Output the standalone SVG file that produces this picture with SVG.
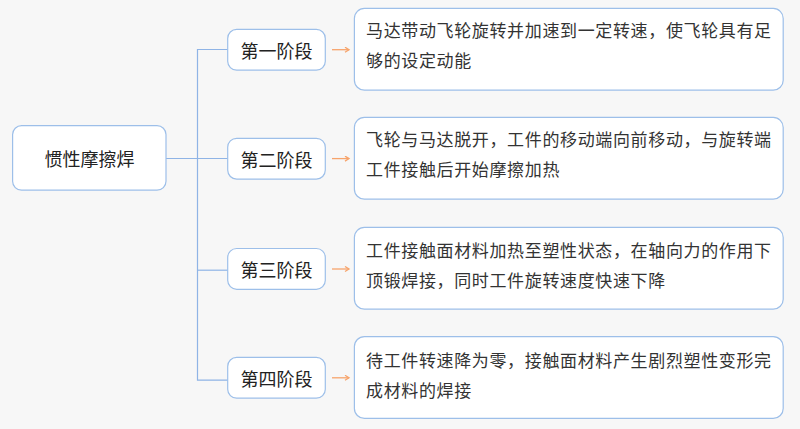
<svg xmlns="http://www.w3.org/2000/svg" width="800" height="429" viewBox="0 0 800 429">
<defs>
<style>
.bg{fill:#f7f7f7}
.box{fill:#ffffff;stroke:#9dbfe9;stroke-width:1.2}
.ln{fill:none;stroke:#8fb4e6;stroke-width:1.2}
.ar{fill:none;stroke:#f7a46c;stroke-width:1.3}
.t18{font-family:"Noto Sans CJK SC","Noto Sans",sans-serif;font-size:18px;fill:#222}
.t17{font-family:"Noto Sans CJK SC","Noto Sans",sans-serif;font-size:17px;fill:#333;letter-spacing:0.64px}
</style>
<marker id="ah" markerWidth="8" markerHeight="8" refX="5" refY="3" orient="auto" markerUnits="userSpaceOnUse">
<path d="M1,0.5 L5,3 L1,5.5" fill="none" stroke="#f7a46c" stroke-width="1.3"/>
</marker>
</defs>
<rect class="bg" x="0" y="0" width="800" height="429"/>
<g id="connectors">
<path class="ln" d="M166,158.5 H228"/>
<path class="ln" d="M228,49.5 H197.5 V380.2 H228"/>
<path class="ln" d="M197.5,270.2 H228"/>
<path class="ar" d="M332,49.7 H349" marker-end="url(#ah)"/>
<path class="ar" d="M332,158.6 H349" marker-end="url(#ah)"/>
<path class="ar" d="M332,269 H349" marker-end="url(#ah)"/>
<path class="ar" d="M332,377.8 H349" marker-end="url(#ah)"/>
</g>
<g id="root">
<rect class="box" x="12.6" y="125.6" width="153.4" height="64.6" rx="9"/>
<text class="t18" x="89.5" y="166" text-anchor="middle">惯性摩擦焊</text>
</g>
<g id="stage1">
<rect class="box" x="227.7" y="29.4" width="97.6" height="40.8" rx="9"/>
<text class="t18" x="276.5" y="58" text-anchor="middle">第一阶段</text>
</g>
<g id="stage2">
<rect class="box" x="227.7" y="138.3" width="97.6" height="40.8" rx="9"/>
<text class="t18" x="276.5" y="166.9" text-anchor="middle">第二阶段</text>
</g>
<g id="stage3">
<rect class="box" x="227.7" y="248.5" width="97.6" height="40.8" rx="9"/>
<text class="t18" x="276.5" y="277.1" text-anchor="middle">第三阶段</text>
</g>
<g id="stage4">
<rect class="box" x="227.7" y="357.4" width="97.6" height="40.8" rx="9"/>
<text class="t18" x="276.5" y="386" text-anchor="middle">第四阶段</text>
</g>
<g id="desc1">
<rect class="box" x="354.4" y="8.4" width="428.8" height="81.8" rx="10"/>
<text class="t17" x="366" y="36.5">马达带动飞轮旋转并加速到一定转速，使飞轮具有足</text>
<text class="t17" x="366" y="66.5">够的设定动能</text>
</g>
<g id="desc2">
<rect class="box" x="354.4" y="117.4" width="428.8" height="81.8" rx="10"/>
<text class="t17" x="366" y="145.5">飞轮与马达脱开，工件的移动端向前移动，与旋转端</text>
<text class="t17" x="366" y="175.5">工件接触后开始摩擦加热</text>
</g>
<g id="desc3">
<rect class="box" x="354.4" y="227.4" width="428.8" height="81.8" rx="10"/>
<text class="t17" x="366" y="257">工件接触面材料加热至塑性状态，在轴向力的作用下</text>
<text class="t17" x="366" y="287">顶锻焊接，同时工件旋转速度快速下降</text>
</g>
<g id="desc4">
<rect class="box" x="354.4" y="336.6" width="428.8" height="81.8" rx="10"/>
<text class="t17" x="366" y="366.5">待工件转速降为零，接触面材料产生剧烈塑性变形完</text>
<text class="t17" x="366" y="396.5">成材料的焊接</text>
</g>
</svg>
